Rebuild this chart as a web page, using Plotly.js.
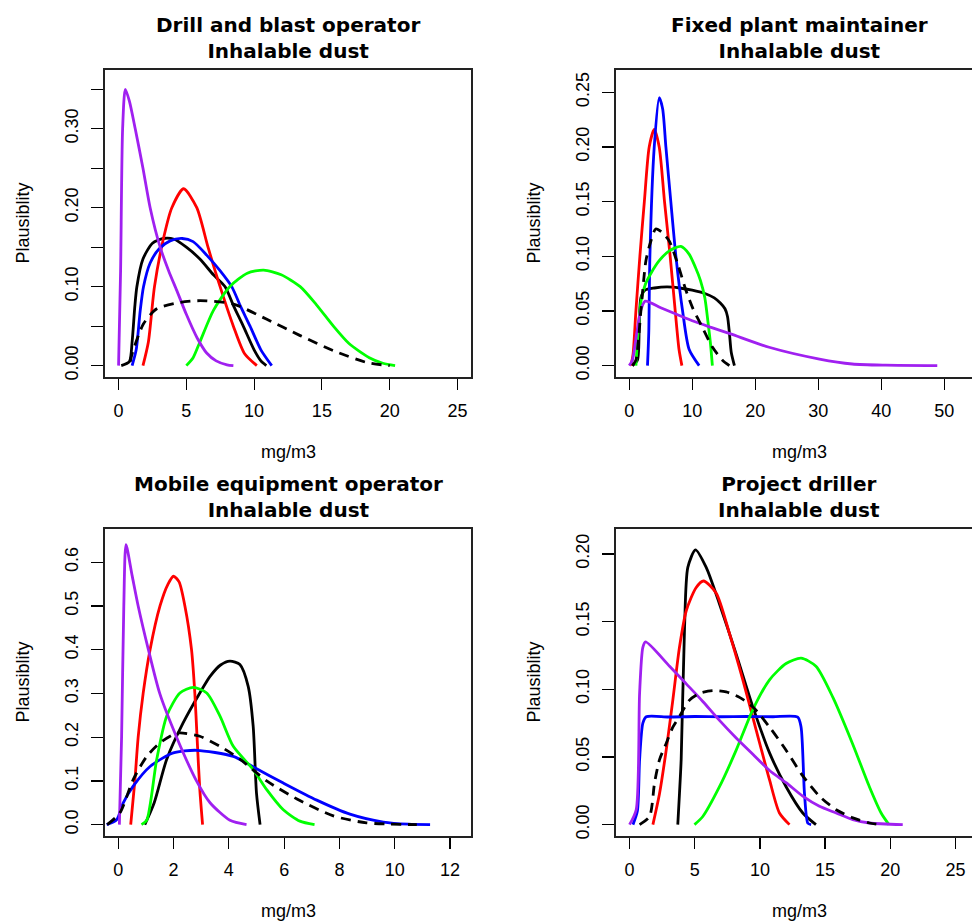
<!DOCTYPE html>
<html>
<head>
<meta charset="utf-8">
<script src="https://cdn.plot.ly/plotly-3.0.1.min.js"></script>
<style>
html,body{margin:0;padding:0;overflow:hidden;background:#fff;}
#chart{width:1000px;height:921px;}
</style>
</head>
<body>
<div id="chart"></div>
<script>
// ---------- Panel titles ----------
const panelTitles = [
  "Drill and blast operator<br>Inhalable dust",
  "Fixed plant maintainer<br>Inhalable dust",
  "Mobile equipment operator<br>Inhalable dust",
  "Project driller<br>Inhalable dust"
];
const xAxisTitle = "mg/m3";
const yAxisTitle = "Plausiblity";

// ---------- Panel 1: Drill and blast operator ----------
const p1BlackX = [0.2,0.8,1.0,1.2,1.35,1.8,2.5,3.3,4.1,5,6,7,7.86,8.5,9.2,10,10.5,10.9];
const p1BlackY = [0,0.005,0.03,0.075,0.1,0.135,0.155,0.161,0.16,0.15,0.135,0.115,0.1,0.075,0.05,0.02,0.006,0];
const p1RedX = [1.8,2.2,2.65,3.3,3.93,4.8,5.77,6.6,7.49,8.47,9.3,10.2];
const p1RedY = [0,0.03,0.1,0.16,0.2,0.224,0.2,0.15,0.1,0.05,0.015,0];
const p1BlueX = [1.0,1.3,1.6,1.84,2.33,3,3.8,4.7,5.5,6.5,7.5,8.35,9,9.7,10.5,11.3];
const p1BlueY = [0,0.02,0.07,0.1,0.13,0.148,0.158,0.161,0.157,0.14,0.12,0.1,0.075,0.05,0.02,0];
const p1GreenX = [5,5.5,6.0,7,8.2,9.5,10.7,12,13.4,14.6,15.85,17,18.5,19.5,20.4];
const p1GreenY = [0,0.01,0.03,0.07,0.1,0.117,0.121,0.115,0.1,0.077,0.05,0.028,0.01,0.003,0];
const p1PurpleX = [0,0.15,0.3,0.5,0.8,1.23,1.8,2.33,3.07,3.7,4.3,5.0,5.8,6.5,7.2,8.0,8.47];
const p1PurpleY = [0,0.12,0.3,0.35,0.335,0.30,0.25,0.2,0.15,0.12,0.095,0.065,0.035,0.016,0.006,0.001,0];
const p1DashX = [0.86,1.0,1.84,2.82,4.54,5.5,6.5,8.47,10.9,13.4,15.85,18.3,20];
const p1DashY = [0.005,0.015,0.053,0.072,0.08,0.082,0.082,0.078,0.059,0.038,0.019,0.004,0];

// ---------- Panel 2: Fixed plant maintainer ----------
const p2BlackX = [0.5,1.3,1.6,1.85,2.5,4,6,8,10,12,13.5,14.5,15.2,15.6,15.9,16.2,16.7];
const p2BlackY = [0,0.005,0.04,0.062,0.069,0.071,0.072,0.071,0.069,0.066,0.062,0.057,0.052,0.045,0.03,0.012,0];
const p2RedX = [0.26,0.6,1.06,1.69,2.4,3.17,3.97,4.76,5.6,6.5,7.3,7.9,8.36];
const p2RedY = [0,0.01,0.05,0.1,0.15,0.2,0.216,0.2,0.15,0.1,0.05,0.015,0];
const p2BlueX = [2.9,3.1,3.28,3.97,4.76,5.3,5.82,6.6,7.41,8.47,9.5,11.1];
const p2BlueY = [0,0.03,0.1,0.2,0.245,0.235,0.2,0.15,0.1,0.05,0.015,0];
const p2GreenX = [1.06,1.4,1.9,2.6,3.5,4.76,6.35,8.2,9.5,10.5,11.3,12.0,12.5,12.9,13.2];
const p2GreenY = [0,0.03,0.06,0.075,0.085,0.096,0.105,0.109,0.102,0.09,0.078,0.062,0.04,0.02,0];
const p2PurpleX = [0,0.5,1.2,1.8,2.54,5,7.5,10,13,16.1,22.2,30.2,35.4,40.7,48.9];
const p2PurpleY = [0,0.005,0.03,0.05,0.059,0.053,0.047,0.041,0.035,0.029,0.0168,0.006,0.0015,0.0004,0];
const p2DashX = [0.5,1.06,1.85,2.65,3.44,4.2,5.2,6.35,7.7,9.0,10.05,11.6,13.2,14.8,15.9];
const p2DashY = [0,0.005,0.05,0.096,0.114,0.125,0.122,0.114,0.093,0.069,0.053,0.035,0.017,0.005,0];

// ---------- Panel 3: Mobile equipment operator ----------
const p3BlackX = [0.96,1.3,1.75,2.35,2.95,3.32,3.7,4.04,4.4,4.7,4.88,5.0,5.13];
const p3BlackY = [0,0.05,0.149,0.233,0.301,0.339,0.365,0.374,0.366,0.316,0.225,0.072,0];
const p3RedX = [0.45,0.6,0.72,0.9,1.15,1.51,1.8,2.0,2.2,2.41,2.65,2.77,2.85,2.95,3.05];
const p3RedY = [0,0.1,0.2,0.3,0.4,0.5,0.55,0.568,0.555,0.5,0.4,0.3,0.2,0.08,0];
const p3BlueX = [-0.42,-0.06,0.18,0.54,1.15,1.99,2.83,4.16,4.94,5.97,7.18,8.38,9.59,10.5,11.28];
const p3BlueY = [0,0.011,0.05,0.088,0.133,0.164,0.17,0.156,0.13,0.095,0.056,0.024,0.006,0.001,0];
const p3GreenX = [0.84,1.03,1.39,1.75,2.23,2.71,3.2,3.68,4.16,4.88,5.37,5.97,6.57,7.1];
const p3GreenY = [0,0.01,0.149,0.248,0.301,0.314,0.301,0.248,0.179,0.126,0.08,0.034,0.008,0];
const p3PurpleX = [0.04,0.12,0.2,0.28,0.5,0.72,1.09,1.5,2.11,2.83,3.32,4.04,4.64];
const p3PurpleY = [0,0.2,0.5,0.64,0.57,0.5,0.4,0.3,0.2,0.1,0.05,0.01,0];
const p3DashX = [-0.4,0.06,0.54,1.03,1.51,1.99,2.23,2.95,3.68,4.4,5.37,6.57,7.78,8.98,10.8];
const p3DashY = [0,0.027,0.103,0.156,0.187,0.206,0.21,0.202,0.179,0.15,0.1,0.055,0.02,0.004,0];

// ---------- Panel 4: Project driller ----------
const p4BlackX = [3.7,3.83,3.96,4.22,4.47,5.06,5.88,6.9,8.18,9.46,10.74,12.01,13.29,14.3];
const p4BlackY = [0,0.023,0.048,0.146,0.19,0.203,0.19,0.163,0.126,0.087,0.053,0.028,0.0086,0];
const p4RedX = [1.79,2.3,2.81,3.32,3.83,4.35,5.1,5.67,6.65,7.67,8.69,9.71,10.74,11.5,12.27];
const p4RedY = [0,0.023,0.055,0.092,0.131,0.158,0.175,0.18,0.171,0.141,0.107,0.07,0.033,0.0086,0];
const p4BlueX = [0.26,0.6,0.77,1.02,1.28,3,5,7,9,11,12.9,13.16,13.42,13.68,13.93];
const p4BlueY = [0,0.01,0.048,0.075,0.0797,0.0795,0.0799,0.0797,0.0799,0.0797,0.0795,0.072,0.023,0.001,0];
const p4GreenX = [4.98,5.62,6.9,8.18,9.46,10.74,12.01,13.16,14.3,15.6,17.1,18.4,19.3,19.9];
const p4GreenY = [0,0.006,0.028,0.055,0.085,0.107,0.119,0.123,0.117,0.094,0.06,0.028,0.0086,0];
const p4PurpleX = [0,0.51,0.77,1.02,1.23,3.07,4.35,5.62,6.9,8.18,9.46,10.74,12.01,13.29,14.57,15.85,17.13,18.4,20.96];
const p4PurpleY = [0,0.011,0.097,0.131,0.135,0.117,0.104,0.091,0.077,0.064,0.052,0.04,0.031,0.021,0.0135,0.0086,0.0037,0.0012,0];
const p4DashX = [0.77,1.53,1.92,2.3,2.81,3.32,3.83,4.6,5.37,6.39,7.41,8.44,9.46,10.74,12.01,13.29,14.57,15.85,17.13,18.4,19.2];
const p4DashY = [0,0.006,0.031,0.048,0.06,0.072,0.08,0.092,0.097,0.099,0.098,0.094,0.087,0.072,0.055,0.036,0.021,0.011,0.005,0.0012,0];

// ---------- Axis ticks ----------
const p1XTicks = [0,5,10,15,20,25];
const p1YTicks = [0,0.05,0.10,0.15,0.20,0.25,0.30,0.35];
const p1YLabels = ["0.00","","0.10","","0.20","","0.30",""];
const p2XTicks = [0,10,20,30,40,50];
const p2YTicks = [0,0.05,0.10,0.15,0.20,0.25];
const p2YLabels = ["0.00","0.05","0.10","0.15","0.20","0.25"];
const p3XTicks = [0,2,4,6,8,10,12];
const p3YTicks = [0,0.1,0.2,0.3,0.4,0.5,0.6];
const p3YLabels = ["0.0","0.1","0.2","0.3","0.4","0.5","0.6"];
const p4XTicks = [0,5,10,15,20,25];
const p4YTicks = [0,0.05,0.10,0.15,0.20];
const p4YLabels = ["0.00","0.05","0.10","0.15","0.20"];

// ---------- Build ----------
const COLORS = {black:"#000000", red:"#FF0000", blue:"#0000FF", green:"#00FF00", purple:"#A020F0"};
const LW = 2.8;

function series(xs, ys, color, dash, ax){
  return {
    type:"scatter", mode:"lines", x:xs, y:ys,
    xaxis: ax[0], yaxis: ax[1],
    line:{color:color, width:LW, dash:dash||"solid", shape:"spline", smoothing:0.7},
    hoverinfo:"skip", showlegend:false
  };
}

const panels = [
  {ax:["x","y"], d:[[p1BlackX,p1BlackY],[p1RedX,p1RedY],[p1BlueX,p1BlueY],[p1GreenX,p1GreenY],[p1PurpleX,p1PurpleY],[p1DashX,p1DashY]]},
  {ax:["x2","y2"], d:[[p2BlackX,p2BlackY],[p2RedX,p2RedY],[p2BlueX,p2BlueY],[p2GreenX,p2GreenY],[p2PurpleX,p2PurpleY],[p2DashX,p2DashY]]},
  {ax:["x3","y3"], d:[[p3BlackX,p3BlackY],[p3RedX,p3RedY],[p3BlueX,p3BlueY],[p3GreenX,p3GreenY],[p3PurpleX,p3PurpleY],[p3DashX,p3DashY]]},
  {ax:["x4","y4"], d:[[p4BlackX,p4BlackY],[p4RedX,p4RedY],[p4BlueX,p4BlueY],[p4GreenX,p4GreenY],[p4PurpleX,p4PurpleY],[p4DashX,p4DashY]]}
];
const seriesStyle = [[COLORS.black,"solid"],[COLORS.red,"solid"],[COLORS.blue,"solid"],[COLORS.green,"solid"],[COLORS.purple,"solid"],[COLORS.black,"10px,7px"]];

const traces = [];
panels.forEach(p => {
  p.d.forEach((s,i) => traces.push(series(s[0], s[1], seriesStyle[i][0], seriesStyle[i][1], p.ax)));
});

const tickFont = {family:"Liberation Sans, Arial, sans-serif", size:18, color:"#000"};
function xaxis(domain, range, ticks, anchor){
  return {domain:domain, range:range, anchor:anchor, tickmode:"array", tickvals:ticks,
    ticktext:ticks.map(String), ticks:"outside", ticklen:11, tickwidth:1.2, tickcolor:"#000",
    showline:true, linecolor:"#222", linewidth:1.6, mirror:true, showgrid:false, zeroline:false,
    tickfont:tickFont, ticklabelstandoff:6, fixedrange:true};
}
function yaxis(domain, range, ticks, labels, anchor){
  return {domain:domain, range:range, anchor:anchor, tickmode:"array", tickvals:ticks,
    ticktext:labels, ticks:"outside", ticklen:12, tickwidth:1.2, tickcolor:"#000",
    showline:true, linecolor:"#222", linewidth:1.6, mirror:true, showgrid:false, zeroline:false,
    tickangle:-90, tickfont:tickFont, ticklabelstandoff:6, fixedrange:true};
}

const W = 1000, H = 921;
const colL = [105/W, 471/W], colR = [616/W, 982/W];
const rowT = [1-377/H, 1-70/H], rowB = [1-836/H, 1-529/H];

const layout = {
  width:W, height:H, margin:{l:0,r:0,t:0,b:0},
  paper_bgcolor:"#fff", plot_bgcolor:"#fff", showlegend:false,
  xaxis: xaxis(colL, [-1,26], p1XTicks, "y"),
  yaxis: yaxis(rowT, [-0.0144,0.3744], p1YTicks, p1YLabels, "x"),
  xaxis2: xaxis(colR, [-2.1,56], p2XTicks, "y2"),
  yaxis2: yaxis(rowT, [-0.0104,0.2704], p2YTicks, p2YLabels, "x2"),
  xaxis3: xaxis(colL, [-0.48,12.76], p3XTicks, "y3"),
  yaxis3: yaxis(rowB, [-0.026,0.676], p3YTicks, p3YLabels, "x3"),
  xaxis4: xaxis(colR, [-1.04,27.04], p4XTicks, "y4"),
  yaxis4: yaxis(rowB, [-0.0084,0.2184], p4YTicks, p4YLabels, "x4"),
  annotations: []
};

const axNames = [["x","y"],["x2","y2"],["x3","y3"],["x4","y4"]];
const boxW = 366, boxH = 307;
axNames.forEach((a,i) => {
  layout.annotations.push({
    xref:a[0]+" domain", yref:a[1]+" domain", x:0.5, y:1+32.5/boxH,
    xanchor:"center", yanchor:"middle", showarrow:false, text:"<b>"+panelTitles[i]+"</b>",
    font:{family:"DejaVu Sans, Verdana, sans-serif", size:20, color:"#000"}
  });
  layout.annotations.push({
    xref:a[0]+" domain", yref:a[1]+" domain", x:0.5, y:-75/boxH,
    xanchor:"center", yanchor:"middle", showarrow:false, text:xAxisTitle,
    font:{family:"Liberation Sans, Arial, sans-serif", size:18, color:"#000"}
  });
  layout.annotations.push({
    xref:a[0]+" domain", yref:a[1]+" domain", x:-83/boxW, y:0.5,
    xanchor:"center", yanchor:"middle", showarrow:false, text:yAxisTitle, textangle:-90,
    font:{family:"Liberation Sans, Arial, sans-serif", size:18, color:"#000"}
  });
});

Plotly.newPlot("chart", traces, layout, {staticPlot:true, displayModeBar:false});
</script>
</body>
</html>
